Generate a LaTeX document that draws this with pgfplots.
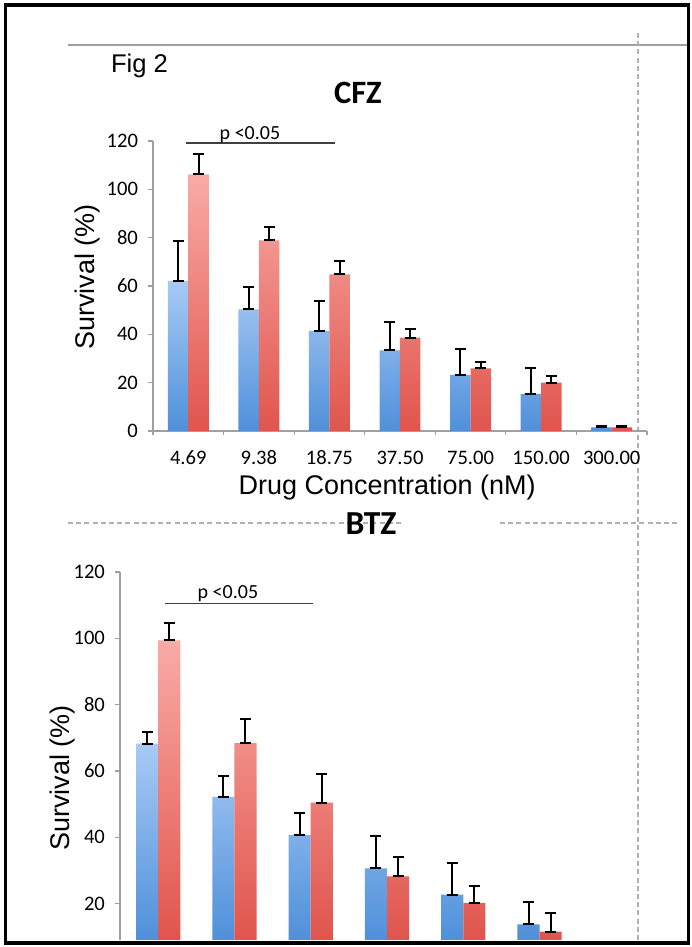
\documentclass[border=0pt]{standalone}
\usepackage{fontspec}
\setmainfont{Liberation Sans}
\newfontfamily\carl{Carlito}
\usepackage{pgfplots}
\pgfplotsset{compat=1.18}
\definecolor{bluetop}{HTML}{A8CAF4}
\definecolor{bluebot}{HTML}{4F90DA}
\definecolor{redtop}{HTML}{F9ABA6}
\definecolor{redbot}{HTML}{E0554D}
\definecolor{axgray}{HTML}{A0A0A0}
\definecolor{dashgray}{HTML}{B0B0B0}

\pgfplotsset{
  mybars/.style={
    scale only axis,
    ybar=0pt, bar width=0.29,
    xmin=-0.5, xmax=6.5,
    axis y line*=left,
    axis line style={axgray, line width=0.75pt},
    tick align=outside,
    major tick length=2.5pt,
    ytick={0,20,...,120},
    tick style={axgray, line width=0.6pt},
    /pgf/number format/assume math mode=true,
    yticklabel style={font=\carl\fontsize{10.3}{12}\selectfont, xshift=-1.5pt},
    ylabel style={font=\fontsize{13.5}{16}\selectfont, anchor=center},
  },
  bluebar/.style={draw=none, top color=bluetop, bottom color=bluebot,
    error bars/.cd, y dir=both, y explicit,
    error bar style={black, line width=1pt},
    error mark options={black, rotate=90, mark size=2.75pt, line width=1pt}},
  redbar/.style={draw=none, top color=redtop, bottom color=redbot,
    error bars/.cd, y dir=both, y explicit,
    error bar style={black, line width=1pt},
    error mark options={black, rotate=90, mark size=2.75pt, line width=1pt}},
}

\begin{document}
\begin{tikzpicture}
\useasboundingbox (0,0) rectangle (345.5pt,473.5pt);
\fill[white] (0,0) rectangle (345.5pt,473.5pt);

% decorative lines
\draw[axgray, line width=1pt] (34pt,451pt) -- (344.5pt,451pt);
\draw[dashgray, line width=0.6pt, dash pattern=on 2.5pt off 1.6pt] (319pt,457pt) -- (319pt,2pt);
\draw[dashgray, line width=0.6pt, dash pattern=on 2.5pt off 1.6pt] (34pt,212pt) -- (201pt,212pt);
\draw[dashgray, line width=0.6pt, dash pattern=on 2.5pt off 1.6pt] (250pt,212pt) -- (340pt,212pt);

% titles
\node[anchor=base west, font=\fontsize{12.8}{15}\selectfont] at (52pt,437pt) {Fig 2};
\node[anchor=center, font=\carl\bfseries\fontsize{16.3}{19}\selectfont] at (179pt,427pt) {CFZ};
\node[anchor=center, font=\carl\bfseries\fontsize{16.8}{19}\selectfont] at (185.5pt,211.75pt) {BTZ};

% ---------- CFZ ----------
\begin{axis}[mybars,
  at={(76.5pt,258pt)}, anchor=south west,
  width=247pt, height=145pt,
  ymin=0, ymax=120,
  axis x line*=bottom,
  clip=false,
  xtick={0,...,6},
  xticklabels={4.69,9.38,18.75,37.50,75.00,150.00,300.00},
  major x tick style={draw opacity=0},
  minor xtick={-0.5,0.5,...,6.5},
  minor tick length=2pt,
  xticklabel style={font=\carl\fontsize{10.3}{12}\selectfont, anchor=base, yshift=-14.5pt},
  xlabel={Drug Concentration (nM)},
  xlabel style={at={(axis description cs:0.474,0)}, anchor=center, yshift=-28.5pt, font=\fontsize{13.5}{16}\selectfont},
  ylabel={Survival (\%)},
  ylabel style={at={(axis description cs:-0.1316,0.531)}},
]
\addplot[bluebar] coordinates {
  (0,62.1) += (0,16.5) -= (0,0)
  (1,50.3) += (0,9.3) -= (0,0)
  (2,41.4) += (0,12.4) -= (0,0)
  (3,33.4) += (0,11.8) -= (0,0)
  (4,23.2) += (0,10.6) -= (0,0)
  (5,15.4) += (0,10.8) -= (0,0)
  (6,1.5) += (0,0.5) -= (0,0)
};
\addplot[redbar] coordinates {
  (0,106.2) += (0,8.3) -= (0,0)
  (1,78.9) += (0,5.5) -= (0,0)
  (2,64.8) += (0,5.5) -= (0,0)
  (3,38.6) += (0,3.5) -= (0,0)
  (4,25.9) += (0,2.8) -= (0,0)
  (5,20.0) += (0,2.8) -= (0,0)
  (6,1.5) += (0,0.5) -= (0,0)
};
\draw[black!75, line width=0.6pt] (axis cs:-0.03,119.2) -- (axis cs:2.08,119.2);
\node[anchor=base, inner sep=0pt, font=\carl\fontsize{10}{12}\selectfont] at (axis cs:0.874,120.6) {p <0.05};
\end{axis}

% ---------- BTZ ----------
\begin{axis}[mybars,
  at={(60pt,3.5pt)}, anchor=south west,
  width=267pt, height=184pt,
  ymin=9, ymax=120,
  axis x line=none,
  xtick=\empty,
  ylabel={Survival (\%)},
  ylabel style={at={(axis description cs:-0.107,0.44)}},
]
\addplot[bluebar] coordinates {
  (0,68.2) += (0,3.6) -= (0,0)
  (1,52.2) += (0,6.3) -= (0,0)
  (2,40.6) += (0,6.7) -= (0,0)
  (3,30.6) += (0,9.7) -= (0,0)
  (4,22.7) += (0,9.6) -= (0,0)
  (5,13.7) += (0,6.8) -= (0,0)
};
\addplot[redbar] coordinates {
  (0,99.4) += (0,5.2) -= (0,0)
  (1,68.4) += (0,7.2) -= (0,0)
  (2,50.4) += (0,8.6) -= (0,0)
  (3,28.2) += (0,5.7) -= (0,0)
  (4,20.2) += (0,5.0) -= (0,0)
  (5,11.5) += (0,5.5) -= (0,0)
};
\draw[black!75, line width=0.6pt] (axis cs:0.09,110.6) -- (axis cs:2.03,110.6);
\node[anchor=base, inner sep=0pt, font=\carl\fontsize{10}{12}\selectfont] at (axis cs:0.915,112.1) {p <0.05};
\end{axis}

% frame
\draw[black, line width=1.6pt] (2.9pt,2pt) rectangle (344.3pt,471pt);
\end{tikzpicture}
\end{document}
